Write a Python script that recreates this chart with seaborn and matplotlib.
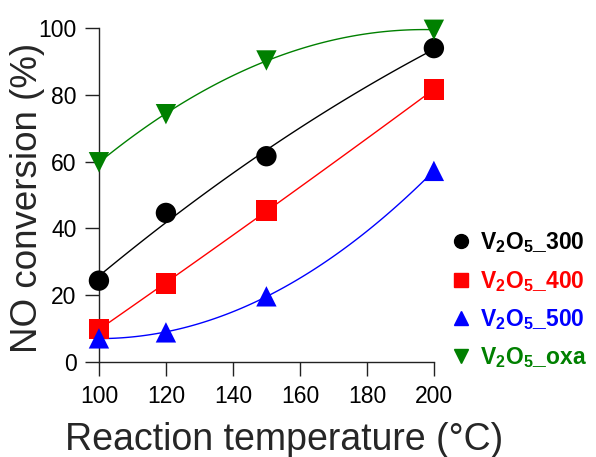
import numpy as np
import pandas as pd
import seaborn as sns
import matplotlib
matplotlib.use('Agg')
import matplotlib.pyplot as plt
from matplotlib.lines import Line2D

# values
temps = [100, 120, 150, 200]
v2o5_300 = [24.3, 44.6, 61.6, 94.0]
v2o5_400 = [9.8, 23.4, 45.3, 81.6]
v2o5_500 = [7.0, 8.8, 19.6, 57.2]
v2o5_oxa = [59.8, 74.2, 90.3, 99.5]

samples = ['300', '400', '500', 'oxa']
colors = ['black', 'red', 'blue', 'green']
markers = ['o', 's', '^', 'v']
labels = [r'V$_\mathbf{2}$O$_\mathbf{5}$_' + s for s in samples]

df = pd.DataFrame({
    'T': temps * 4,
    'conv': v2o5_300 + v2o5_400 + v2o5_500 + v2o5_oxa,
    'sample': np.repeat(samples, len(temps)),
})

sns.set_style('ticks')
plt.rcParams['font.family'] = ['Liberation Sans', 'DejaVu Sans']
plt.rcParams['mathtext.fontset'] = 'custom'
plt.rcParams['mathtext.rm'] = 'Liberation Sans'
plt.rcParams['mathtext.bf'] = 'Liberation Sans:bold'

fig = plt.figure(figsize=(5.96, 4.57), dpi=100)
ax = fig.add_axes([0.166, 0.2085, 0.562, 0.730])

# quadratic fit curves
for s, c in zip(samples, colors):
    sub = df[df['sample'] == s]
    sns.regplot(data=sub, x='T', y='conv', order=2, ci=None, scatter=False,
                line_kws=dict(color=c, lw=1.0, clip_on=False), ax=ax)

sns.scatterplot(data=df, x='T', y='conv', hue='sample', style='sample',
                palette=dict(zip(samples, colors)), markers=dict(zip(samples, markers)),
                s=215, edgecolor='none', linewidth=0, legend=False, ax=ax, zorder=3)
for coll in ax.collections:
    coll.set_clip_on(False)

ax.set_xlim(100, 200)
ax.set_ylim(0, 100)
ax.set_xticks([100, 120, 140, 160, 180, 200])
ax.set_yticks([0, 20, 40, 60, 80, 100])
ax.tick_params(direction='out', length=10, width=1.0, labelsize=16.5, colors='#222222',
               labelcolor='black', pad=6)
ax.tick_params(axis='x', pad=7)
for sp in ['left', 'bottom']:
    ax.spines[sp].set_linewidth(1.0)
    ax.spines[sp].set_color('#222222')
sns.despine(ax=ax)

ax.set_xlabel('Reaction temperature (°C)', fontsize=27)
ax.set_ylabel('NO conversion (%)', fontsize=26.5)
ax.xaxis.set_label_coords(0.553, -0.18)
ax.yaxis.set_label_coords(-0.161, 0.49)

handles = [Line2D([], [], ls='none', marker=m, color=c, markersize=10)
           for m, c in zip(markers, colors)]
leg = fig.legend(handles, labels, loc='center left', bbox_to_anchor=(0.755, 0.343),
                 frameon=False, prop=dict(size=16.5, weight='bold'),
                 handlelength=1.0, handletextpad=0.3, labelspacing=0.58,
                 borderpad=0, borderaxespad=0)
for t, c in zip(leg.get_texts(), colors):
    t.set_color(c)

fig.savefig('out.png', dpi=100)
